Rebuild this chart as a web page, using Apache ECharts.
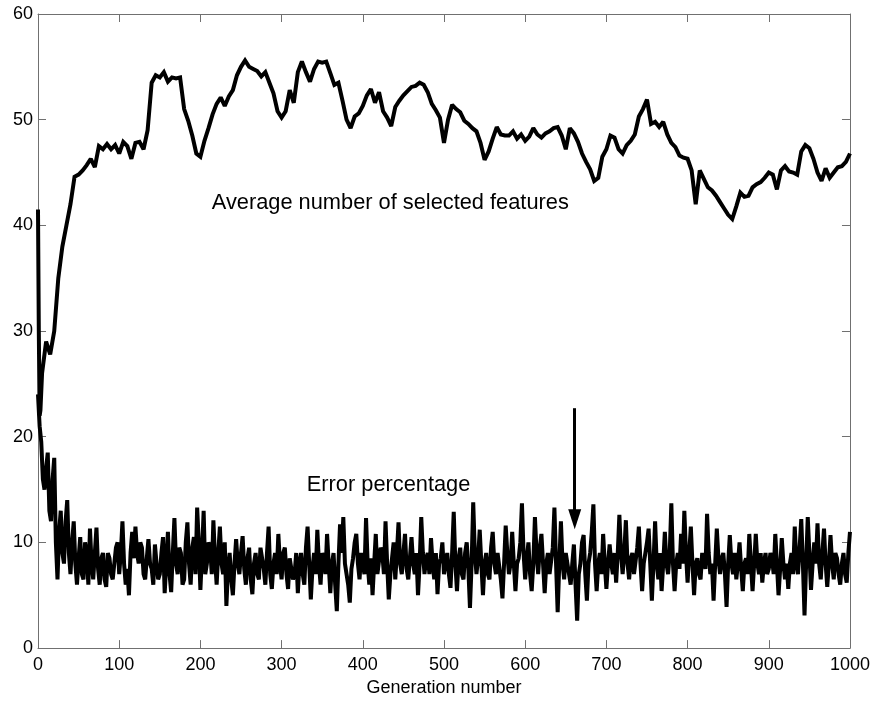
<!DOCTYPE html>
<html>
<head>
<meta charset="utf-8">
<script src="https://cdn.jsdelivr.net/npm/echarts@6/dist/echarts.min.js"></script>
<style>
html,body{margin:0;padding:0;background:#fff;}
#chart{width:873px;height:702px;}
</style>
</head>
<body>
<div id="chart"></div>
<script>
// ---- data ----
const xTicks = [0,100,200,300,400,500,600,700,800,900,1000];
const yTicks = [0,10,20,30,40,50,60];

// generations sampled for the average-features curve
const avgGen = [0,1,2,3];
for (let g = 5; g <= 1000; g += 5) avgGen.push(g);
const avgVal = [
41.5,30,22,22.5,
26,29,27.8,30,35,38,40,42,44.6,44.8,
45.2,45.7,46.3,45.5,47.5,47.2,47.7,47.2,47.6,46.8,
47.9,47.5,46.3,47.8,47.9,47.2,49,53.5,54.2,54,
54.5,53.6,54,53.9,54,51,49.9,48.5,46.8,46.5,
48,49.2,50.5,51.5,52.1,51.3,52.2,52.8,54.2,55,
55.6,55,54.8,54.6,54.1,54.5,53.5,52.5,50.8,50.2,
50.8,52.8,51.6,54.5,55.5,54.5,53.6,54.8,55.5,55.4,
55.5,54.4,53.3,53.5,51.8,50,49.2,50.3,50.6,51.3,
52.3,52.9,51.6,52.6,50.8,50.2,49.4,51.2,51.8,52.3,
52.7,53.1,53.2,53.5,53.3,52.6,51.5,50.9,50.2,47.8,
50,51.4,51,50.7,49.9,49.6,49.2,48.9,47.8,46.2,
47,48.2,49.3,48.6,48.5,48.5,48.9,48.2,48.6,48,
48.4,49.2,48.6,48.3,48.7,48.9,49.2,49.3,48.5,47.2,
49.2,48.7,47.9,46.8,46,45.3,44.2,44.5,46.5,47.2,
48.5,48.3,47.2,46.8,47.6,48,48.6,50.3,51,51.9,
49.6,49.8,49.3,49.8,48.6,47.8,47.4,46.6,46.4,46.3,
45.2,42,45.2,44.4,43.6,43.3,42.8,42.2,41.6,41,
40.6,41.8,43.1,42.7,42.8,43.6,43.9,44.1,44.5,45,
44.8,43.4,45.2,45.6,45.1,45,44.8,47,47.6,47.3,
46.3,45,44.2,45.4,44.5,45,45.5,45.6,46,46.8
];

// generations sampled for the error curve (every 2nd generation)
const errGen = [];
for (let g = 0; g <= 1000; g += 2) errGen.push(g);
const errVal = [
24,21,19.5,16,15,17,18.5,13,12,16,18,10,6.5,11,13,9,8,12,14,9,
7,10,12,8,6,8.5,10.5,7,6.5,10,9,6,11.3,8,6.5,9,11.4,7.5,6,8.5,
9,6.5,5.8,9,8.5,7,6.5,8,9.5,10,7,9,12,8,6,7.5,5,9,11,8.5,
11.5,9,8,10,9.5,7,6.5,8.5,10.3,8,7.5,6,9.8,8,6.5,7,9,10.5,5.2,8,
11,7,5.3,9,12.3,8,7,9.5,9,6,6.5,10,11.9,8,6,9.5,10.5,7,13.3,10,
5.5,9,13,7,8,10,9.5,7,12.1,8.5,6,9,11.5,8,7,10,4,7.5,9,6.5,
5,8,10.3,8,7,9,10.6,7.5,6,8.5,9.5,6.5,5.1,8,9,7,6.5,9.5,9.5,7.5,
6,9,11.5,7,5.6,8,9,7,10.8,8,6.5,9,9.5,7,5.6,8.5,8.5,6.5,7,9,
5.2,8,9,7,6,9.5,11.5,8,4.6,7.5,9,7,11.2,8,6,9,8.5,7,10.8,8,
5.2,8,9,6,3.5,8,11.7,9,12.4,8,7,6,4.3,7.5,8.5,10,10.8,8,6.5,9,
9,7,12.3,8,6,8.5,5,8,10.8,7,7,9.5,9,7,12,8,4.6,7,8.5,10,
6.5,9,11.9,8,7,9,10.8,7.5,6.5,8.5,10.5,8,7,9,5,8,12.4,9,7,8.5,
9,7,10.4,8,6.5,9,5.1,8,8.5,10,7,8,9,7,5.7,9,12.9,8,5.4,8.5,
9.5,7,6.5,9,10,7.5,3.8,8,13.8,9,7,8.5,11.2,8,5,8,9,7,6.5,9.5,
11,8,7,9,9,6.5,4.7,8,11.6,9,7,8,11,8,5.4,8,8.5,10,13.7,9,
6.5,8.5,10,7,5.4,8,12.4,9,7,9.5,10.8,8,5.2,8,9,7,7,9.5,13.3,8,
3.4,8,12,8,6.5,9,9,7,6,8,9.8,6,2.6,7,8,10,10.7,7,4.5,8,
9,11,13.6,8,5.4,8,9,7,10.8,8,5.6,8,9.8,8,7,9,6.2,9,12.6,9,
7,9,12.1,8,6.5,8.5,9,7,7,9.5,11.5,8,5.4,8,9,10,11.3,8,4.5,8,
12,8,6.5,9,5.4,8,11,8,7,9,13.7,8,5.4,8,9,7.5,10.8,8,13,9,
6.2,9,11.5,8,5,8,8.5,7,6.5,9,9,7.5,12.7,9,7,8,4.5,8,11.3,8.5,
7,8.5,9,7,3.9,8,10.7,8,7,9,6.5,8,10,7.5,5.4,8,8.5,7,10.8,8,
5.4,8,10.8,8,7,9,6.2,8,9,7,7.5,9,8.5,7,10.8,8,5,7.5,10.4,8,
6.5,8,5.6,8,9,7,11.5,8,7,9.5,12.2,8,3.1,8,12.4,9,5.5,8,10,8,
11.8,8,6.5,9,11.3,8,5.8,8,10.7,8,6.5,9,8.5,7,6,8,9,7,6.2,9,11
];

const avgLabel = 'Average number of selected features';
const errLabel = 'Error percentage';
const xName = 'Generation number';
const arrowGen = 661, arrowTop = 22.7, arrowTip = 11.3;
const avgLabelPos = [214, 42.1];
const errLabelPos = [331, 15.45];

// ---- chart ----
const FONT = '"Liberation Sans", Arial, sans-serif';
const AX = '#707070';
const chart = echarts.init(document.getElementById('chart'), null, {renderer: 'canvas'});

const baseX = {
  type: 'value', min: 0, max: 1000, interval: 100,
  axisLine: {show: true, onZero: false, lineStyle: {color: AX, width: 1}},
  axisTick: {show: true, inside: true, length: 8, lineStyle: {color: AX}},
  splitLine: {show: false}
};
const baseY = {
  type: 'value', min: 0, max: 60, interval: 10,
  axisLine: {show: true, onZero: false, lineStyle: {color: AX, width: 1}},
  axisTick: {show: true, inside: true, length: 8, lineStyle: {color: AX}},
  splitLine: {show: false}
};

chart.setOption({
  animation: false,
  backgroundColor: '#fff',
  grid: {left: 38, right: 23, top: 14, bottom: 48, containLabel: false},
  xAxis: [
    Object.assign({}, baseX, {
      position: 'bottom',
      axisLabel: {show: true, margin: 8, color: '#000', fontSize: 18, fontFamily: FONT,
        formatter: v => xTicks.includes(v) ? String(v) : ''},
      name: xName, nameLocation: 'middle', nameGap: 29,
      nameTextStyle: {color: '#000', fontSize: 18, fontFamily: FONT, verticalAlign: 'top'}
    }),
    Object.assign({}, baseX, {position: 'top', axisLabel: {show: false}})
  ],
  yAxis: [
    Object.assign({}, baseY, {
      position: 'left',
      axisLabel: {show: true, margin: 5, color: '#000', fontSize: 18, fontFamily: FONT,
        formatter: v => yTicks.includes(v) ? String(v) : ''}
    }),
    Object.assign({}, baseY, {position: 'right', axisLabel: {show: false}})
  ],
  series: [
    {
      name: avgLabel, type: 'line', xAxisIndex: 0, yAxisIndex: 0,
      data: avgVal.map((v, i) => [avgGen[i], v]),
      showSymbol: false, symbol: 'none', sampling: null,
      lineStyle: {color: '#000', width: 4, join: 'miter', miterLimit: 2},
      silent: true
    },
    {
      name: errLabel, type: 'line', xAxisIndex: 0, yAxisIndex: 0,
      data: errVal.map((v, i) => [errGen[i], v]),
      showSymbol: false, symbol: 'none',
      lineStyle: {color: '#000', width: 4, join: 'miter', miterLimit: 2},
      silent: true,
      markLine: {
        silent: true, animation: false,
        symbol: ['none', 'triangle'], symbolSize: [13, 20], symbolRotate: 180,
        label: {show: false},
        lineStyle: {color: '#000', width: 3, type: 'solid'},
        data: [[{coord: [arrowGen, arrowTop]}, {coord: [arrowGen, arrowTip + 0.9]}]]
      }
    }
  ]
});

function place() {
  const p1 = chart.convertToPixel({gridIndex: 0}, avgLabelPos);
  const p2 = chart.convertToPixel({gridIndex: 0}, errLabelPos);
  chart.setOption({
    graphic: [
      {type: 'text', x: p1[0], y: p1[1], silent: true,
       style: {text: avgLabel, fill: '#000', font: '21.8px ' + FONT, textVerticalAlign: 'middle', verticalAlign: 'middle'}},
      {type: 'text', x: p2[0], y: p2[1], silent: true,
       style: {text: errLabel, fill: '#000', font: '21.8px ' + FONT, textVerticalAlign: 'middle', verticalAlign: 'middle'}}
    ]
  });
}
place();
</script>
</body>
</html>
